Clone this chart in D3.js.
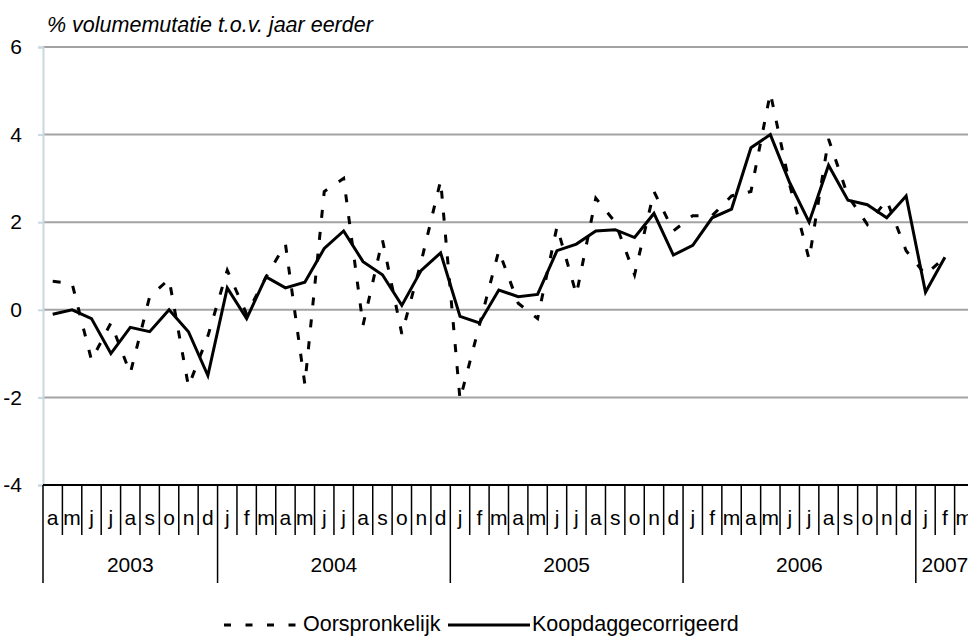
<!DOCTYPE html>
<html>
<head>
<meta charset="utf-8">
<script src="https://cdn.jsdelivr.net/npm/d3@7"></script>
<style>
  body { margin: 0; background: #fff; }
  svg { display: block; font-family: "Liberation Sans", Arial, sans-serif; }
</style>
</head>
<body>
<div id="chart"></div>
<script>
// maanden april 2003 t/m maart 2007
const monthLetters = ["j", "f", "m", "a", "m", "j", "j", "a", "s", "o", "n", "d"];
const years = ["2003", "2004", "2005", "2006", "2007"];
const firstMonth = 3;   // april
const nMonths = 48;

// % volumemutatie t.o.v. jaar eerder (maart 2007 ontbreekt)
const oorspronkelijk = [
  0.65, 0.6, -1.15, -0.3, -1.45, 0.3, 0.7, -1.75, -0.6,
  0.9, -0.1, 0.75, 1.5, -1.7, 2.7, 3.0, -0.35, 1.6, -0.55, 1.1, 2.95,
  -2.05, -0.35, 1.35, 0.15, -0.2, 1.9, 0.35, 2.55, 2.0, 0.8, 2.7, 1.8,
  2.15, 2.15, 2.6, 2.7, 4.95, 2.85, 1.15, 3.9, 2.6, 1.95, 2.5, 1.35,
  0.8, 1.2, null
];
const koopdaggecorrigeerd = [
  -0.1, 0.0, -0.2, -1.0, -0.4, -0.5, 0.0, -0.5, -1.5,
  0.5, -0.2, 0.75, 0.5, 0.63, 1.4, 1.8, 1.1, 0.8, 0.1, 0.9, 1.3,
  -0.15, -0.3, 0.45, 0.3, 0.35, 1.35, 1.5, 1.8, 1.83, 1.65, 2.2, 1.25,
  1.47, 2.1, 2.3, 3.7, 4.0, 2.9, 2.0, 3.3, 2.5, 2.4, 2.1, 2.6,
  0.4, 1.2, null
];
const yTicks = [-4, -2, 0, 2, 4, 6];

const W = 968, H = 637;
const plotLeft = 43, plotRight = 974, plotTop = 47, plotBottom = 485;
const fs = 21;

const months = d3.range(nMonths).map(i => ({
  i: i,
  label: monthLetters[(firstMonth + i) % 12],
  year: years[Math.floor((firstMonth + i) / 12)]
}));

const svg = d3.select("#chart").append("svg")
  .attr("width", W)
  .attr("height", H);

const x = d3.scaleBand()
  .domain(months.map(d => d.i))
  .range([plotLeft, plotRight])
  .paddingInner(0)
  .paddingOuter(0);

const y = d3.scaleLinear()
  .domain([-4, 6])
  .range([plotBottom, plotTop]);

const cx = i => x(i) + x.bandwidth() / 2;

// rasterlijnen
svg.append("g")
  .selectAll("line")
  .data(yTicks.filter(v => v > -4))
  .join("line")
  .attr("x1", plotLeft).attr("x2", W)
  .attr("y1", d => y(d)).attr("y2", d => y(d))
  .attr("stroke", "#a3a3a3")
  .attr("stroke-width", 2);

// y-as
const yAxis = svg.append("g")
  .attr("transform", `translate(${plotLeft},0)`)
  .call(d3.axisLeft(y).tickValues(yTicks).tickSize(5).tickPadding(16).tickFormat(d => String(d)));
yAxis.select(".domain").attr("stroke", "#c9d7de").attr("stroke-width", 2);
yAxis.selectAll(".tick line").attr("stroke", "#c9d7de").attr("stroke-width", 2);
yAxis.selectAll(".tick text")
  .attr("font-size", fs)
  .attr("fill", "#000")
  .attr("font-family", "Liberation Sans, Arial, sans-serif");

// x-as
const xg = svg.append("g");
xg.append("line")
  .attr("x1", plotLeft).attr("x2", W)
  .attr("y1", plotBottom).attr("y2", plotBottom)
  .attr("stroke", "#000").attr("stroke-width", 2);

const bounds = d3.range(nMonths + 1);
const isYearStart = b => b === 0 || (firstMonth + b) % 12 === 0;
xg.selectAll("line.tick")
  .data(bounds)
  .join("line")
  .attr("class", "tick")
  .attr("x1", b => plotLeft + b * x.bandwidth())
  .attr("x2", b => plotLeft + b * x.bandwidth())
  .attr("y1", plotBottom)
  .attr("y2", b => isYearStart(b) ? 583 : 535)
  .attr("stroke", "#000")
  .attr("stroke-width", 1.5);

xg.selectAll("text.month")
  .data(months)
  .join("text")
  .attr("class", "month")
  .attr("x", d => cx(d.i))
  .attr("y", 525)
  .attr("text-anchor", "middle")
  .attr("font-size", fs)
  .text(d => d.label);

const yearGroups = d3.groups(months, d => d.year);
xg.selectAll("text.year")
  .data(yearGroups)
  .join("text")
  .attr("class", "year")
  .attr("x", d => (x(d[1][0].i) + x(d[1][d[1].length - 1].i) + x.bandwidth()) / 2)
  .attr("y", 572)
  .attr("text-anchor", "middle")
  .attr("font-size", fs)
  .text(d => d[0]);

// titel
svg.append("text")
  .attr("x", 47)
  .attr("y", 32)
  .attr("font-size", 21.5)
  .attr("font-style", "italic")
  .text("% volumemutatie t.o.v. jaar eerder");

// lijnen
const line = d3.line()
  .defined(d => d.v !== null)
  .x(d => cx(d.i))
  .y(d => y(d.v));

svg.append("path")
  .datum(oorspronkelijk.map((v, i) => ({ i, v })))
  .attr("d", line)
  .attr("fill", "none")
  .attr("stroke", "#000")
  .attr("stroke-width", 3)
  .attr("stroke-dasharray", "8,14");

svg.append("path")
  .datum(koopdaggecorrigeerd.map((v, i) => ({ i, v })))
  .attr("d", line)
  .attr("fill", "none")
  .attr("stroke", "#000")
  .attr("stroke-width", 3)
  .attr("stroke-linejoin", "miter");

// legenda
const legend = svg.append("g");
legend.append("line")
  .attr("x1", 224).attr("x2", 302).attr("y1", 625).attr("y2", 625)
  .attr("stroke", "#000").attr("stroke-width", 3).attr("stroke-dasharray", "7,14.5");
legend.append("text")
  .attr("x", 303).attr("y", 631).attr("font-size", 21.5)
  .text("Oorspronkelijk");
legend.append("line")
  .attr("x1", 448).attr("x2", 530).attr("y1", 625).attr("y2", 625)
  .attr("stroke", "#000").attr("stroke-width", 3);
legend.append("text")
  .attr("x", 532).attr("y", 631).attr("font-size", 21.5)
  .text("Koopdaggecorrigeerd");
</script>
</body>
</html>
